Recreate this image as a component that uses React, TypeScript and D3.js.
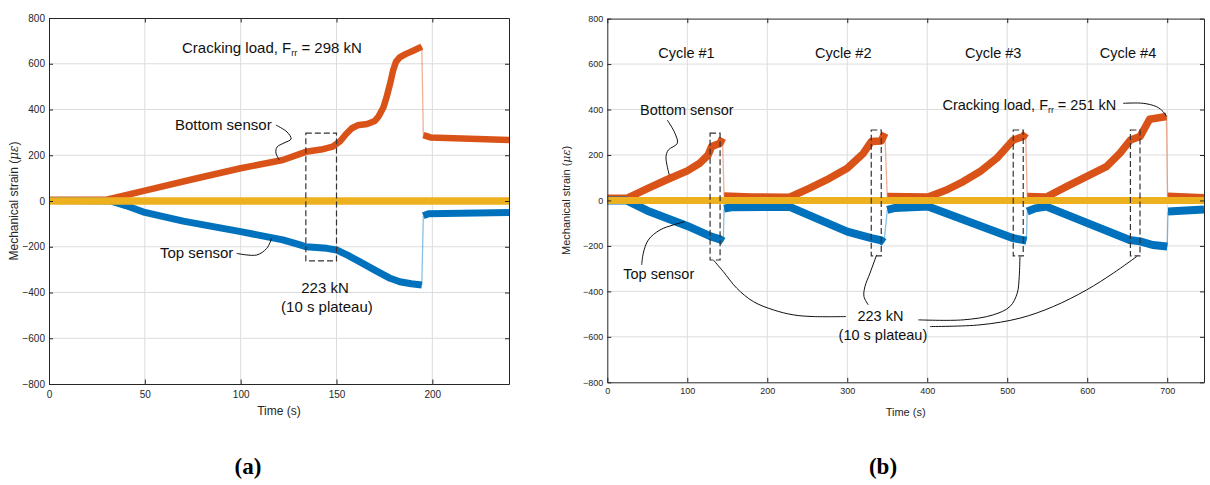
import React, { useEffect, useRef } from "react";
import * as d3 from "d3";

type Pt = [number, number];

// ---------- panel (a): monotonic loading up to cracking ----------
const bottomA: Pt[][] = [
  [[0, 5], [30, 6], [40, 25], [50, 45], [75, 95], [100, 143], [122, 179], [134, 215], [142, 225], [148, 238],
   [152, 262], [155, 293], [158, 318], [161, 331], [166, 337], [170, 350], [172, 370], [174.5, 410], [176, 450],
   [178, 514], [179.5, 570], [181, 608], [183, 628], [186, 642], [190, 657], [194.5, 675]],
  [[195.3, 288], [199, 278], [240, 267]],
];
const topA: Pt[][] = [
  [[0, 2], [32, 0], [40, -20], [50, -50], [70, -88], [100, -134], [122, -170], [131, -192], [134, -200],
   [145, -207], [150, -214], [156, -238], [162, -265], [170, -302], [178, -338], [183, -353], [189, -362],
   [194.5, -367]],
  [[195.3, -65], [198, -56], [240, -50]],
];
const midA: Pt[][] = [[[0, 0], [240, 0]]];
const xTicksA = [0, 50, 100, 150, 200];

// ---------- panel (b): four load cycles ----------
const bottomB: Pt[][] = [
  [[0, 10], [25, 10], [50, 52], [75, 92], [100, 130], [116, 165], [126, 200], [130.5, 237], [141, 252], [144, 274]],
  [[146, 20], [180, 15], [228, 14], [253, 54], [274, 90], [300, 142], [320, 207], [330, 259], [342.5, 262], [347, 296]],
  [[350, 17], [401, 15], [424, 46], [445, 83], [466, 127], [487, 186], [507.5, 266], [520, 281], [523, 296]],
  [[525, 17], [549, 15], [574, 61], [599, 105], [624, 149], [641, 208], [654, 266], [666, 281], [678, 357], [699, 369]],
  [[700.5, 18], [746, 12]],
];
const topB: Pt[][] = [
  [[0, 0], [24, 0], [50, -45], [100, -112], [130, -159], [141, -171], [145, -180]],
  [[146, -36], [155, -30], [228, -28], [260, -77], [300, -137], [330, -166], [342, -175], [346, -185]],
  [[350, -42], [360, -33], [401, -27], [507.5, -166], [524, -177]],
  [[525, -49], [535, -35], [549, -27], [653, -174], [666, -180], [682, -196], [700, -203]],
  [[701, -49], [746, -40]],
];
const midB: Pt[][] = [[[0, 0], [746, 0]]];
const xTicksB = [0, 100, 200, 300, 400, 500, 600, 700];

const yTicks = [-800, -600, -400, -200, 0, 200, 400, 600, 800];

// 10 s plateau windows: [t start, t end, strain top, strain bottom]
const plateauA: number[][] = [[134, 150, 297, -262]];
const plateauB: number[][] = [
  [128.5, 141, 296, -262],
  [330, 342.5, 310, -244],
  [507.5, 520, 310, -244],
  [654, 666, 310, -244],
];

const cycleNames = ["Cycle #1", "Cycle #2", "Cycle #3", "Cycle #4"];
const cycleLabelT = [99, 295, 482.5, 651];

// annotation leaders, in data units (time, strain)
const leadersA: Pt[][] = [
  [[118.4, 332], [124.2, 301.6], [126.3, 271], [122.6, 253.6], [119, 236], [118.4, 210], [120.2, 179]],
  [[97.9, -229], [108.4, -236], [113.6, -207], [116.2, -163]],
];
const leadersB: Pt[][] = [
  [[75, 353.8], [84.6, 295.4], [87.5, 251.4], [76.3, 222], [73.4, 192.5], [75, 148.6], [77.5, 112]],
  [[43, -283.5], [45, -232], [51.3, -173.6], [65.9, -129.7], [82.5, -107.7], [97.1, -93]],
  [[298.4, -510.8], [257.5, -510.8], [232.5, -503.3], [207.5, -481.3], [182.5, -444.8], [161.8, -385.9], [145, -313], [132.5, -261.5]],
  [[336.7, -239.6], [328.4, -320], [322.1, -378.9], [320.9, -422.9], [326.3, -459.3]],
  [[388.8, -525.3], [445, -525.3], [482.5, -503.3], [503.4, -466.8], [512.5, -407.9], [515, -335], [515.9, -247]],
  [[403.4, -554.7], [465.9, -547.3], [515.9, -517.8], [557.5, -466.8], [599.3, -393.4], [632.5, -320], [661.8, -247]],
  [[645, 427.3], [670, 427.3], [686.8, 412.3], [695, 390.3], [699.3, 368.4]],
];

const FONT = "'Liberation Sans', Arial, Helvetica, sans-serif";
const ORANGE = "#D95319";
const BLUE = "#0072BD";
const YELLOW = "#EDB120";
const AX = "#262626";

function drawPanel(root: any, p: any) {
  const x = d3.scaleLinear().domain(p.xDomain).range([p.left, p.right]);
  const y = d3.scaleLinear().domain([-800, 800]).range([p.bottom, p.top]);
  const g = root.append("g");

  g.append("defs").append("clipPath").attr("id", "clip-" + p.id)
    .append("rect")
    .attr("x", p.left).attr("y", p.top)
    .attr("width", p.right - p.left).attr("height", p.bottom - p.top);

  // grid
  g.selectAll(".vg").data(p.xTicks.slice(1)).enter().append("line")
    .attr("x1", (d: number) => x(d)).attr("x2", (d: number) => x(d))
    .attr("y1", p.top).attr("y2", p.bottom)
    .attr("stroke", "#dcdcdc").attr("stroke-width", 1);
  g.selectAll(".hg").data(yTicks.slice(1, -1)).enter().append("line")
    .attr("x1", p.left).attr("x2", p.right)
    .attr("y1", (d: number) => y(d)).attr("y2", (d: number) => y(d))
    .attr("stroke", "#dcdcdc").attr("stroke-width", 1);

  // data
  const line = d3.line<Pt>().x((d) => x(d[0])).y((d) => y(d[1]));
  const plot = g.append("g").attr("clip-path", `url(#clip-${p.id})`);
  p.series.forEach((s: any) => {
    // thin vertical jumps between segments
    for (let i = 0; i < s.segs.length - 1; i++) {
      const a = s.segs[i][s.segs[i].length - 1];
      const b = s.segs[i + 1][0];
      plot.append("path")
        .attr("d", line([a, b]))
        .attr("fill", "none").attr("stroke", s.color)
        .attr("stroke-opacity", 0.45).attr("stroke-width", 1.3);
    }
    s.segs.forEach((seg: Pt[]) => {
      plot.append("path")
        .attr("d", line(seg))
        .attr("fill", "none")
        .attr("stroke", s.color)
        .attr("stroke-width", s.width)
        .attr("stroke-linejoin", "round");
    });
  });

  // axes, MATLAB style box with inward ticks
  const styleAxis = (sel: any) => {
    sel.attr("color", AX).attr("font-family", FONT).attr("font-size", p.tickFont);
    sel.select(".domain").attr("stroke-width", 1);
  };
  g.append("g").attr("transform", `translate(0,${p.bottom})`)
    .call(d3.axisBottom(x).tickValues(p.xTicks).tickSizeInner(-4.5).tickSizeOuter(0).tickPadding(p.xPad))
    .call(styleAxis);
  g.append("g").attr("transform", `translate(0,${p.top})`)
    .call(d3.axisTop(x).tickValues(p.xTicks).tickSizeInner(-4.5).tickSizeOuter(0).tickFormat(() => ""))
    .call(styleAxis);
  g.append("g").attr("transform", `translate(${p.left},0)`)
    .call(d3.axisLeft(y).tickValues(yTicks).tickSizeInner(-4).tickSizeOuter(0).tickPadding(4))
    .call(styleAxis);
  g.append("g").attr("transform", `translate(${p.right},0)`)
    .call(d3.axisRight(y).tickValues(yTicks).tickSizeInner(-4).tickSizeOuter(0).tickFormat(() => ""))
    .call(styleAxis);

  // axis labels
  g.append("text")
    .attr("x", (p.left + p.right) / 2).attr("y", p.xLabelY)
    .attr("text-anchor", "middle").attr("font-family", FONT)
    .attr("font-size", p.labelFont).attr("fill", AX)
    .text("Time (s)");
  const yl = g.append("text")
    .attr("transform", `translate(${p.yLabelX},${y(0)}) rotate(-90)`)
    .attr("text-anchor", "middle").attr("font-family", FONT)
    .attr("font-size", p.labelFont).attr("fill", AX);
  yl.append("tspan").text("Mechanical strain (");
  yl.append("tspan").attr("font-family", "'DejaVu Serif', serif").attr("font-style", "italic").text("με");
  yl.append("tspan").text(")");

  // plateau boxes
  p.plateaus.forEach((b: number[]) => {
    g.append("rect")
      .attr("x", x(b[0])).attr("y", y(b[2]))
      .attr("width", x(b[1]) - x(b[0])).attr("height", y(b[3]) - y(b[2]))
      .attr("fill", "none").attr("stroke", "#333").attr("stroke-width", 1.2)
      .attr("stroke-dasharray", "6,3");
  });

  // leaders
  const curve = d3.line<Pt>().x((d) => x(d[0])).y((d) => y(d[1])).curve(d3.curveCatmullRom);
  p.leaders.forEach((l: Pt[]) => {
    g.append("path").attr("d", curve(l))
      .attr("fill", "none").attr("stroke", "#111").attr("stroke-width", 1);
  });

  // annotation texts
  p.texts.forEach((t: any) => {
    const el = g.append("text")
      .attr("x", x(t.t)).attr("y", y(t.s))
      .attr("text-anchor", t.anchor || "start")
      .attr("font-family", FONT).attr("font-size", p.noteFont).attr("fill", "#111");
    if (t.sub) {
      el.append("tspan").text(t.txt);
      el.append("tspan").attr("font-size", p.noteFont * 0.6).attr("dy", 3).text(t.sub);
      el.append("tspan").attr("dy", -3).text(t.after);
    } else {
      el.text(t.txt);
    }
  });

  // caption
  root.append("text")
    .attr("x", p.captionX).attr("y", 474)
    .attr("text-anchor", "middle")
    .attr("font-family", "'Liberation Serif', 'Times New Roman', serif")
    .attr("font-weight", "bold").attr("font-size", 23).attr("fill", "#000")
    .text(p.caption);
}

const App = () => {
  const ref = useRef<SVGSVGElement | null>(null);

  useEffect(() => {
    const svg = d3.select(ref.current);
    svg.selectAll("*").remove();

    drawPanel(svg, {
      id: "a", left: 49, right: 509, top: 18, bottom: 384, xDomain: [0, 240], xTicks: xTicksA,
      tickFont: 10, labelFont: 12, noteFont: 15, xPad: 7, xLabelY: 415, yLabelX: 18,
      series: [
        { segs: bottomA, color: ORANGE, width: 6.5 },
        { segs: topA, color: BLUE, width: 7 },
        { segs: midA, color: YELLOW, width: 7.5 },
      ],
      plateaus: plateauA,
      leaders: leadersA,
      texts: [
        { t: 69.4, s: 649, txt: "Cracking load, F", sub: "rr", after: " = 298 kN" },
        { t: 65.7, s: 310, txt: "Bottom sensor" },
        { t: 57.9, s: -247, txt: "Top sensor" },
        { t: 144, s: -404, txt: "223 kN", anchor: "middle" },
        { t: 145, s: -485, txt: "(10 s plateau)", anchor: "middle" },
      ],
      caption: "(a)", captionX: 248,
    });

    drawPanel(svg, {
      id: "b", left: 607.3, right: 1204, top: 18.6, bottom: 382.3, xDomain: [0, 746], xTicks: xTicksB,
      tickFont: 9, labelFont: 11, noteFont: 14.5, xPad: 5.6, xLabelY: 416, yLabelX: 570,
      series: [
        { segs: bottomB, color: ORANGE, width: 7.5 },
        { segs: topB, color: BLUE, width: 8 },
        { segs: midB, color: YELLOW, width: 7 },
      ],
      plateaus: plateauB,
      leaders: leadersB,
      texts: [
        ...cycleNames.map((c, i) => ({ t: cycleLabelT[i], s: 628, txt: c, anchor: "middle" })),
        { t: 41, s: 378, txt: "Bottom sensor" },
        { t: 20, s: -344, txt: "Top sensor" },
        { t: 341.5, s: -531, txt: "223 kN", anchor: "middle" },
        { t: 344.6, s: -612, txt: "(10 s plateau)", anchor: "middle" },
        { t: 419, s: 400, txt: "Cracking load, F", sub: "rr", after: " = 251 kN" },
      ],
      caption: "(b)", captionX: 883,
    });
  }, []);

  return (
    <svg
      ref={ref}
      width={1210}
      height={485}
      style={{ position: "absolute", left: 0, top: 0, background: "#fff" }}
    />
  );
};

export default App;
